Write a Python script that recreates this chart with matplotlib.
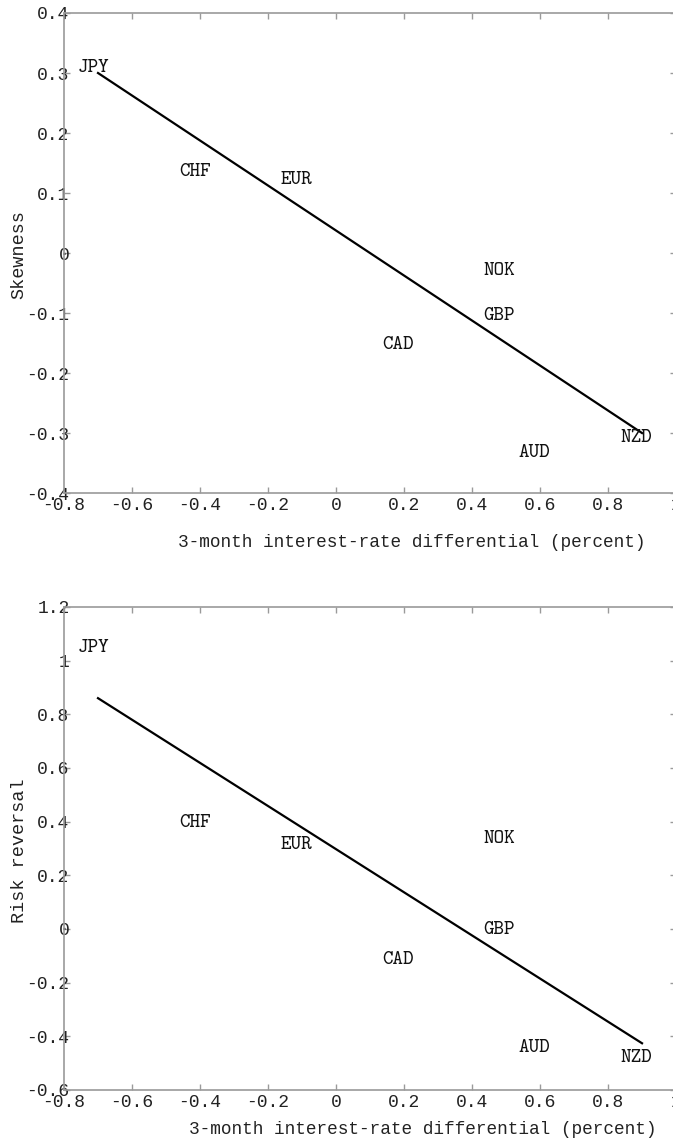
import numpy as np
import matplotlib
matplotlib.use("Agg")
import matplotlib.pyplot as plt

# currencies and label positions (interest-rate differential, value)
currencies = ["JPY", "CHF", "EUR", "NOK", "GBP", "CAD", "AUD", "NZD"]
rate_diff = [-0.713, -0.415, -0.115, 0.481, 0.479, 0.182, 0.582, 0.882]
skewness = [0.308, 0.135, 0.122, -0.030, -0.105, -0.153, -0.333, -0.308]
risk_rev = [1.047, 0.393, 0.314, 0.336, -0.004, -0.116, -0.445, -0.482]

# fitted lines (endpoints)
fit_x = [-0.7, 0.9]
fit_skew = [0.3, -0.3]
fit_rr = [0.86, -0.426]

xticks = [-0.8, -0.6, -0.4, -0.2, 0, 0.2, 0.4, 0.6, 0.8, 1]
xticklabels = ["-0.8", "-0.6", "-0.4", "-0.2", "0", "0.2", "0.4", "0.6", "0.8", "1"]
skew_ticks = [-0.4, -0.3, -0.2, -0.1, 0, 0.1, 0.2, 0.3, 0.4]
skew_labels = ["-0.4", "-0.3", "-0.2", "-0.1", "0", "0.1", "0.2", "0.3", "0.4"]
rr_ticks = [-0.6, -0.4, -0.2, 0, 0.2, 0.4, 0.6, 0.8, 1, 1.2]
rr_labels = ["-0.6", "-0.4", "-0.2", "0", "0.2", "0.4", "0.6", "0.8", "1", "1.2"]

plt.rcParams["font.family"] = ["Liberation Mono", "DejaVu Sans Mono"]
plt.rcParams["axes.unicode_minus"] = False

fig = plt.figure(figsize=(6.73, 11.40), dpi=100)
ax1 = fig.add_axes([0.0951, 0.5675, 0.9094, 0.4211])
ax2 = fig.add_axes([0.0951, 0.0439, 0.9094, 0.4237])

xlab = "3-month interest-rate differential (percent)"
grey = "#9a9a9a"

def panel(ax, fit_y, vals, yt, ytl, ylim, ylabel, xlab_x, xlab_y):
    ax.plot(fit_x, fit_y, color="black", lw=1.6)
    for c, x, y in zip(currencies, rate_diff, vals):
        ax.text(x, y, c, ha="center", va="center", fontsize=14.5,
                family=["cmtt10", "DejaVu Serif"], color="#111111")
    ax.set_xlim(-0.8, 1.0)
    ax.set_ylim(*ylim)
    ax.set_xticks(xticks)
    ax.set_xticklabels(xticklabels)
    ax.set_yticks(yt)
    ax.set_yticklabels(ytl)
    ax.tick_params(direction="in", length=4, width=1, color=grey,
                   top=True, right=True, labelsize=13, labelcolor="#222222")
    ax.tick_params(axis="y", pad=-4)
    ax.tick_params(axis="x", pad=3)
    for s in ax.spines.values():
        s.set_color(grey)
        s.set_linewidth(1.2)
    ax.set_ylabel(ylabel, fontsize=13.3, color="#222222")
    ax.yaxis.set_label_coords(-0.0735, 0.496)
    ax.yaxis.label.set_va("center")
    ax.set_xlabel(xlab, fontsize=12.8, color="#222222")
    ax.xaxis.set_label_coords(xlab_x, xlab_y)
    ax.xaxis.label.set_va("center")

panel(ax1, fit_skew, skewness, skew_ticks, skew_labels, (-0.4, 0.4),
      "Skewness", 0.569, -0.104)
panel(ax2, fit_rr, risk_rev, rr_ticks, rr_labels, (-0.6, 1.2),
      "Risk reversal", 0.586, -0.081)

fig.savefig("out.png", dpi=100)
